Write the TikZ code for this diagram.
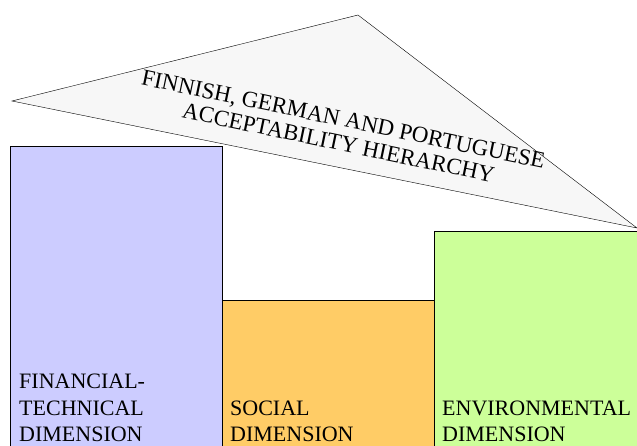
\documentclass[tikz,border=0pt]{standalone}
\usepackage{fontspec}
\setmainfont{Liberation Serif}
\definecolor{finblue}{HTML}{CCCCFF}
\definecolor{socorange}{HTML}{FFCC66}
\definecolor{envgreen}{HTML}{CCFF99}
\definecolor{roofgray}{HTML}{F7F7F7}
\tikzset{
  pillar/.style={draw, thin, rectangle, inner sep=0pt, anchor=north west, minimum width=212pt},
  dimlabel/.style={inner sep=0pt, anchor=south west, align=left, text depth=0pt,
    font=\fontsize{22}{26.5}\selectfont},
}
\begin{document}
\begin{tikzpicture}[x=1pt, y=-1pt]
\useasboundingbox (0,0) rectangle (637,445);
\clip (0,0) rectangle (637,445);

% the three dimensions
\node [pillar, fill=finblue, minimum height=310pt] (fin) at (10,146) {};
\node [pillar, fill=socorange, minimum height=156pt] (soc) at (222,300) {};
\node [pillar, fill=envgreen, minimum height=225pt, minimum width=215pt] (env) at (434,231) {};

\node [dimlabel] (finlab) at (19,442) {FINANCIAL-\\TECHNICAL\\DIMENSION};
\node [dimlabel] (soclab) at (230,442) {SOCIAL\\DIMENSION};
\node [dimlabel] (envlab) at (442,442) {ENVIRONMENTAL\\DIMENSION};

% the roof
\coordinate (l) at (12,101);
\coordinate (t) at (358,15);
\coordinate (r) at (637,228);
\draw [thin, fill=roofgray] (l) -- (t) -- (r) -- cycle;
\node [rotate=-11.8, align=center, inner sep=0pt, font=\fontsize{23}{24}\selectfont] (roof) at (341,131)
  {FINNISH, GERMAN AND PORTUGUESE\\ACCEPTABILITY HIERARCHY};
\end{tikzpicture}
\end{document}
